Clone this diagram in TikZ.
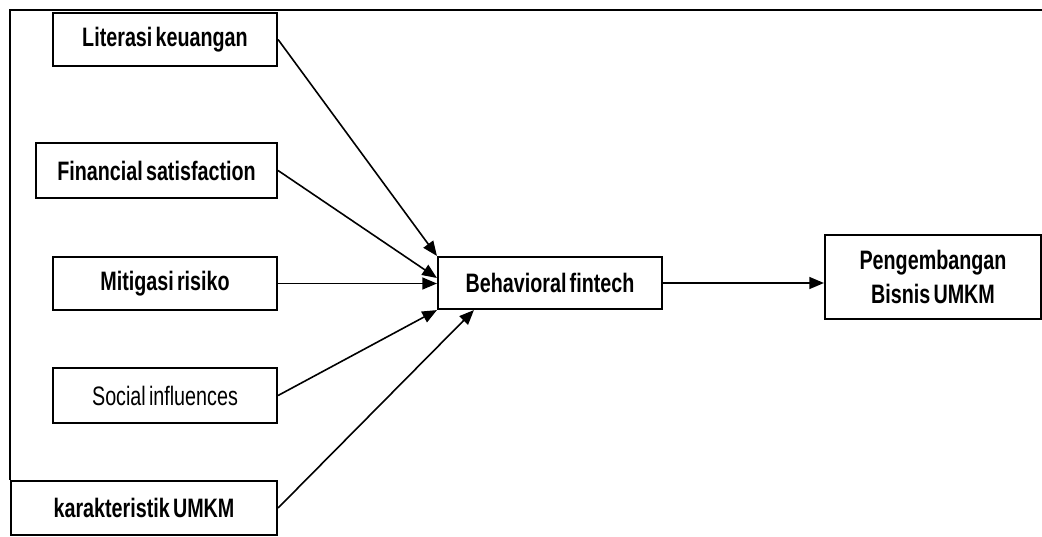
\documentclass[tikz,border=0pt]{standalone}
\usepackage{fontspec}
\setmainfont[FakeStretch=0.74]{Liberation Sans}
\usetikzlibrary{arrows.meta,calc}
\newcommand{\boxfont}{\fontsize{20}{25}\selectfont\spaceskip=0.12em plus 0.05em\relax}
\begin{document}
\begin{tikzpicture}[x=0.75pt,y=-0.75pt,
  box/.style={draw,line width=1.6pt,inner sep=2pt,align=center,font=\boxfont\bfseries},
  plain/.style={box,font=\boxfont},
  arr/.style={line width=1.2pt,-{Triangle[length=11pt,width=9pt]}},
  frame/.style={line width=1.6pt}]
\useasboundingbox (0,0) rectangle (1042,536);
\coordinate (ftr) at (1042,10);
\coordinate (ftl) at (10,10);
\node[box,minimum width=168pt,minimum height=39.75pt] (lit) at (165,39.5) {Literasi keuangan};
\node[box,minimum width=180.75pt,minimum height=41.25pt] (fin) at (156.5,170.5) {Financial satisfaction};
\node[box,minimum width=168pt,minimum height=39.75pt] (mit) at (165,283.5) {Mitigasi risiko};
\node[plain,minimum width=168pt,minimum height=41.25pt] (soc) at (165,395.5) {Social influences};
\node[box,minimum width=199.5pt,minimum height=40.5pt] (kar) at (144,508) {karakteristik UMKM};
\node[box,minimum width=168pt,minimum height=39pt] (beh) at (550,283) {Behavioral fintech};
\node[box,minimum width=162pt,minimum height=63pt] (peng) at (933,277) {Pengembangan\\Bisnis UMKM};
\draw[frame] (ftr) -- (ftl) -- (ftl |- kar.north);
\draw[arr] (lit.east) -- (beh.north west);
\draw[arr] (fin.east) -- ($(beh.west)+(0,-5)$);
\draw[arr] (mit.east) -- (mit.east -| beh.west);
\draw[arr] (soc.east) -- (beh.south west);
\draw[arr] (kar.east) -- ($(beh.south west)+(37,0)$);
\draw[arr] (beh.east) -- (beh.east -| peng.west);
\end{tikzpicture}
\end{document}
